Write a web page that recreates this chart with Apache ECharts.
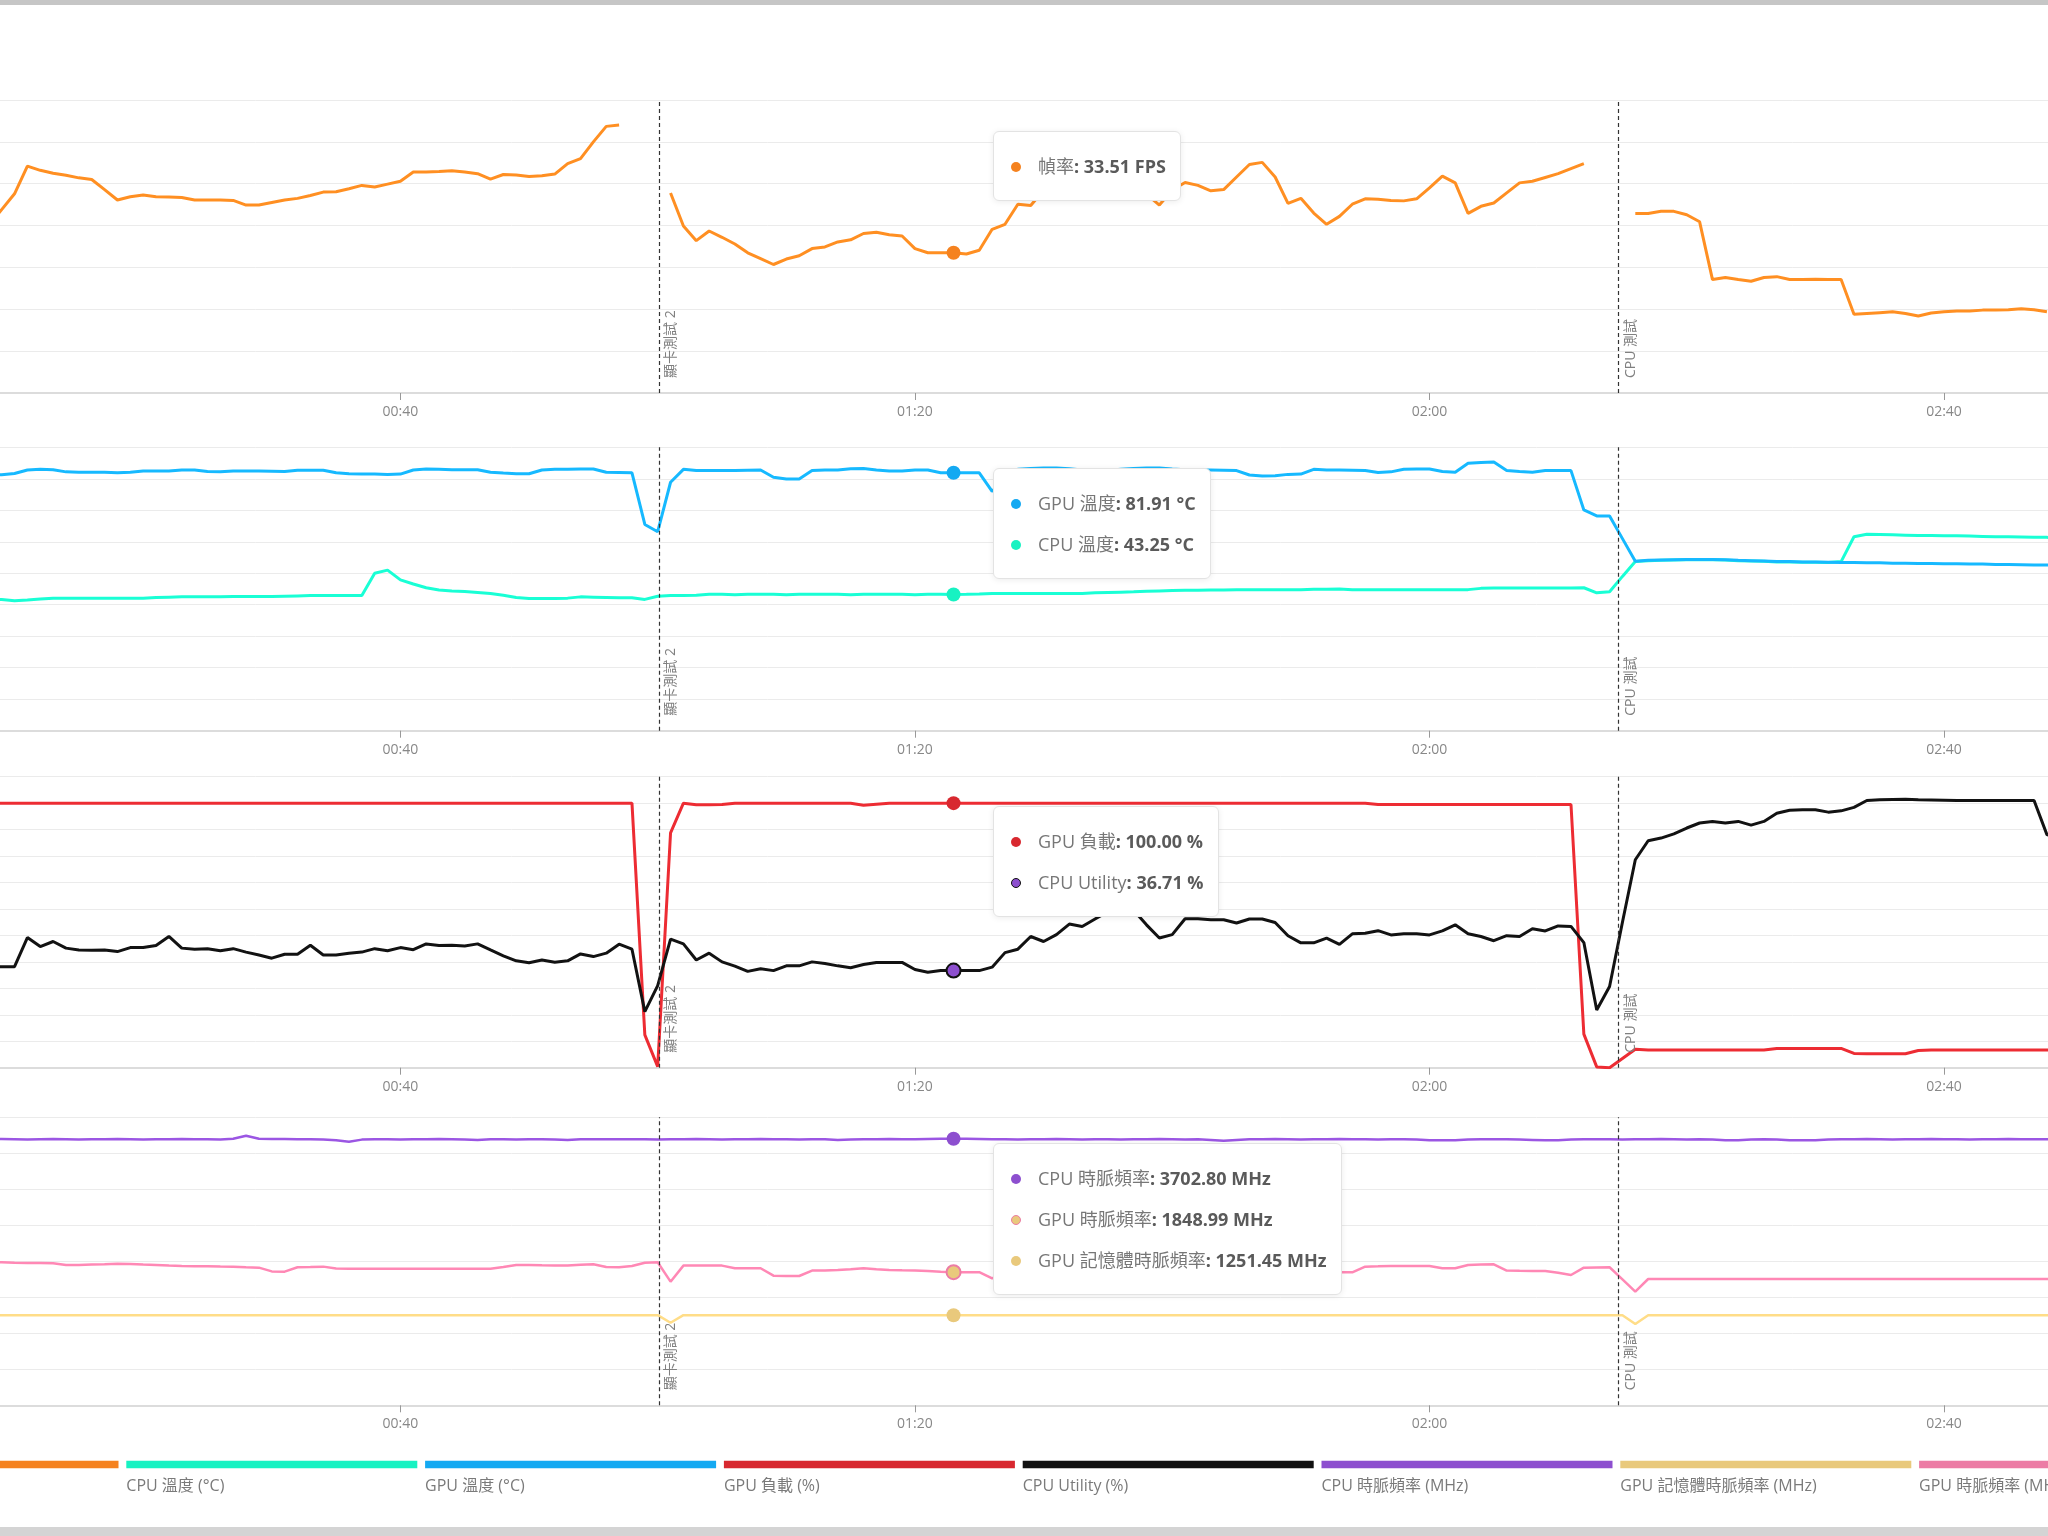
<!DOCTYPE html>
<html>
<head>
<meta charset="utf-8">
<script src="https://cdn.jsdelivr.net/npm/echarts@6/dist/echarts.min.js"></script>
<style>
  html, body { margin: 0; padding: 0; background: #fff; width: 2048px; height: 1536px; overflow: hidden; }
  .c { position: absolute; left: 0; width: 2048px; }
  #topbar { position: absolute; left: 0; top: 0; width: 2048px; height: 5px; background: #c6c6c6; z-index: 5; }
  #botbar { position: absolute; left: 0; top: 1527px; width: 2048px; height: 9px; background: #d4d4d4; z-index: 5; }
</style>
</head>
<body>
<div id="topbar"></div>
<div id="u1" class="c" style="top:0;height:430px"></div>
<div id="u2" class="c" style="top:430px;height:335px"></div>
<div id="u3" class="c" style="top:765px;height:335px"></div>
<div id="u4" class="c" style="top:1100px;height:436px"></div>
<div id="botbar"></div>
<script>
// 時間 (秒)
const seconds = [
  8, 9, 10, 11, 12, 13, 14, 15, 16, 17,
  18, 19, 20, 21, 22, 23, 24, 25, 26, 27,
  28, 29, 30, 31, 32, 33, 34, 35, 36, 37,
  38, 39, 40, 41, 42, 43, 44, 45, 46, 47,
  48, 49, 50, 51, 52, 53, 54, 55, 56, 57,
  58, 59, 60, 61, 62, 63, 64, 65, 66, 67,
  68, 69, 70, 71, 72, 73, 74, 75, 76, 77,
  78, 79, 80, 81, 82, 83, 84, 85, 86, 87,
  88, 89, 90, 91, 92, 93, 94, 95, 96, 97,
  98, 99, 100, 101, 102, 103, 104, 105, 106, 107,
  108, 109, 110, 111, 112, 113, 114, 115, 116, 117,
  118, 119, 120, 121, 122, 123, 124, 125, 126, 127,
  128, 129, 130, 131, 132, 133, 134, 135, 136, 137,
  138, 139, 140, 141, 142, 143, 144, 145, 146, 147,
  148, 149, 150, 151, 152, 153, 154, 155, 156, 157,
  158, 159, 160, 161, 162, 163, 164, 165, 166, 167,
  168, 169
];

// 幀率 (FPS)
const fps = [
  40.0, 43.8, 47.6, 54.2, 53.2, 52.5, 52.0, 51.4, 51.0, 48.6,
  46.1, 46.9, 47.3, 46.9, 46.8, 46.7, 46.1, 46.1, 46.1, 46.0,
  44.9, 44.9, 45.5, 46.1, 46.5, 47.2, 48.0, 48.1, 48.8, 49.6,
  49.2, 49.9, 50.6, 52.8, 52.8, 52.9, 53.1, 52.8, 52.4, 51.1,
  52.2, 52.1, 51.7, 51.9, 52.3, 54.8, 56.0, 60.0, 63.7, 64.0,
  null, null, null, 47.8, 39.9, 36.4, 38.7, 37.2, 35.6, 33.5,
  32.1, 30.7, 32.0, 32.8, 34.5, 34.9, 36.1, 36.6, 38.1, 38.4,
  37.8, 37.5, 34.5, 33.5, 33.5, 33.51, 33.2, 34.1, 39.1, 40.3,
  45.1, 44.8, 48.5, 49.5, 50.2, 49.6, 50.4, 51.0, 50.1, 49.2,
  47.5, 44.9, 48.5, 50.3, 49.6, 48.3, 48.6, 51.6, 54.6, 55.1,
  51.6, 45.3, 46.5, 43.0, 40.3, 42.2, 45.1, 46.4, 46.3, 46.0,
  45.9, 46.4, 49.0, 51.8, 50.2, 42.9, 44.6, 45.4, 47.8, 50.2,
  50.6, 51.5, 52.4, 53.6, 54.8, null, null, null, 42.9, 42.9,
  43.4, 43.4, 42.6, 40.9, 27.1, 27.6, 27.1, 26.7, 27.6, 27.8,
  27.1, 27.1, 27.2, 27.1, 27.1, 18.8, 19.0, 19.2, 19.4, 19.0,
  18.4, 19.1, 19.4, 19.6, 19.6, 19.8, 19.8, 19.9, 20.1, 19.9,
  19.4, null
];

// CPU 溫度 (°C)
const cpuTemp = [
  41.7, 41.7, 41.3, 41.5, 41.8, 42.1, 42.1, 42.1, 42.1, 42.1,
  42.1, 42.1, 42.1, 42.3, 42.4, 42.5, 42.5, 42.5, 42.5, 42.6,
  42.6, 42.6, 42.6, 42.7, 42.8, 42.9, 42.9, 42.9, 42.9, 42.9,
  50.0, 51.0, 47.9, 46.6, 45.4, 44.7, 44.4, 44.2, 43.9, 43.6,
  43.0, 42.3, 42.0, 42.0, 42.0, 42.1, 42.5, 42.4, 42.3, 42.2,
  42.2, 41.7, 42.7, 42.9, 42.9, 43.0, 43.3, 43.3, 43.2, 43.3,
  43.3, 43.3, 43.2, 43.3, 43.3, 43.3, 43.3, 43.2, 43.3, 43.3,
  43.3, 43.3, 43.2, 43.3, 43.3, 43.25, 43.3, 43.4, 43.6, 43.6,
  43.6, 43.6, 43.6, 43.6, 43.6, 43.6, 43.8, 43.9, 44.0, 44.1,
  44.3, 44.4, 44.5, 44.6, 44.6, 44.7, 44.7, 44.8, 44.8, 44.8,
  44.8, 44.8, 44.8, 44.9, 44.9, 45.0, 44.8, 44.8, 44.8, 44.8,
  44.8, 44.8, 44.8, 44.8, 44.8, 44.8, 45.2, 45.3, 45.3, 45.3,
  45.3, 45.3, 45.3, 45.3, 45.4, 43.8, 44.1, 49.0, 53.7, 54.0,
  54.1, 54.2, 54.3, 54.3, 54.3, 54.2, 54.0, 53.9, 53.8, 53.6,
  53.6, 53.5, 53.5, 53.4, 53.7, 61.6, 62.4, 62.3, 62.2, 62.1,
  62.0, 62.0, 61.9, 61.9, 61.8, 61.7, 61.6, 61.6, 61.5, 61.4,
  61.4, 61.3
];

// GPU 溫度 (°C)
const gpuTemp = [
  81.2, 81.3, 81.7, 82.8, 83.0, 82.9, 82.2, 82.1, 82.1, 82.1,
  81.9, 82.1, 82.5, 82.5, 82.5, 82.8, 82.8, 82.3, 82.2, 82.5,
  82.5, 82.5, 82.4, 82.3, 82.7, 82.7, 82.7, 81.9, 81.6, 81.5,
  81.5, 81.4, 81.5, 82.8, 83.1, 83.0, 82.9, 82.9, 82.9, 82.1,
  81.8, 81.6, 81.6, 82.8, 83.0, 83.0, 83.1, 83.1, 82.1, 82.0,
  81.9, 65.5, 63.2, 78.9, 83.0, 82.6, 82.6, 82.6, 82.6, 82.7,
  82.8, 80.5, 79.9, 79.9, 82.6, 82.8, 82.8, 83.2, 83.3, 82.8,
  82.5, 82.5, 82.8, 82.8, 81.9, 81.91, 81.9, 81.9, 76.0, 80.5,
  83.0, 83.3, 83.4, 83.4, 83.2, 82.8, 82.5, 82.6, 83.0, 83.3,
  83.4, 83.4, 83.1, 82.9, 82.8, 82.8, 82.7, 82.6, 81.2, 80.9,
  81.0, 81.4, 81.5, 83.0, 82.8, 82.8, 82.7, 82.6, 82.0, 82.2,
  83.0, 83.1, 83.1, 82.3, 82.1, 84.9, 85.2, 85.3, 82.6, 82.3,
  82.1, 82.6, 82.6, 82.6, 70.1, 68.2, 68.2, 61.0, 53.8, 54.1,
  54.2, 54.3, 54.4, 54.4, 54.4, 54.3, 54.1, 54.0, 53.9, 53.7,
  53.7, 53.6, 53.6, 53.5, 53.4, 53.4, 53.3, 53.3, 53.2, 53.2,
  53.1, 53.1, 53.0, 53.0, 52.9, 52.9, 52.8, 52.8, 52.7, 52.6,
  52.6, 52.5
];

// GPU 負載 (%)
const gpuLoad = [
  100, 100, 100, 100, 100, 100, 100, 100, 100, 100,
  100, 100, 100, 100, 100, 100, 100, 100, 100, 100,
  100, 100, 100, 100, 100, 100, 100, 100, 100, 100,
  100, 100, 100, 100, 100, 100, 100, 100, 100, 100,
  100, 100, 100, 100, 100, 100, 100, 100, 100, 100,
  100, 12.4, 0.4, 88.8, 100, 99.4, 99.4, 99.5, 100, 100,
  100, 100, 100, 100, 100, 100, 100, 100, 99.2, 99.6,
  100, 100, 100, 100, 100, 100.00, 100, 100, 100, 100,
  100, 100, 100, 100, 100, 100, 100, 100, 100, 100,
  100, 100, 100, 100, 100, 100, 100, 100, 100, 100,
  100, 100, 100, 100, 100, 100, 100, 100, 99.5, 99.5,
  99.5, 99.5, 99.5, 99.5, 99.5, 99.5, 99.5, 99.5, 99.5, 99.5,
  99.5, 99.5, 99.5, 99.5, 12.7, 0.3, 0, 3.5, 7.0, 6.7,
  6.7, 6.7, 6.7, 6.7, 6.7, 6.7, 6.7, 6.7, 6.7, 7.3,
  7.3, 7.3, 7.3, 7.3, 7.3, 5.4, 5.3, 5.3, 5.3, 5.3,
  6.5, 6.7, 6.7, 6.7, 6.7, 6.7, 6.7, 6.7, 6.7, 6.7,
  6.7, 6.7
];

// CPU Utility (%)
const cpuUtil = [
  38.0, 38.2, 38.2, 49.2, 45.8, 47.7, 45.2, 44.5, 44.4, 44.5,
  43.9, 45.4, 45.4, 46.2, 49.6, 45.2, 44.8, 45.0, 44.2, 45.0,
  43.7, 42.6, 41.4, 42.9, 42.9, 46.3, 42.6, 42.6, 43.3, 43.7,
  45.0, 44.2, 45.4, 44.6, 46.8, 46.2, 46.3, 46.0, 46.8, 44.5,
  42.3, 40.4, 39.7, 40.7, 39.9, 40.4, 43.0, 42.0, 43.3, 46.7,
  44.8, 21.2, 31.0, 48.6, 46.8, 40.7, 43.3, 40.0, 38.4, 36.4,
  37.4, 36.7, 38.5, 38.5, 40.0, 39.4, 38.5, 37.8, 39.0, 39.8,
  39.8, 39.8, 37.1, 36.1, 36.7, 36.71, 36.7, 36.7, 38.0, 43.5,
  44.8, 49.6, 47.7, 50.3, 54.3, 53.4, 56.2, 59.0, 61.0, 59.5,
  54.0, 49.0, 50.3, 56.3, 56.3, 55.9, 55.9, 54.7, 56.2, 56.2,
  54.9, 49.9, 47.2, 47.2, 49.0, 46.6, 50.6, 50.8, 51.8, 50.2,
  50.6, 50.6, 50.2, 51.7, 54.0, 50.6, 49.6, 48.0, 49.9, 49.6,
  52.5, 51.7, 53.6, 53.4, 47.3, 21.8, 30.7, 55.0, 78.6, 85.8,
  86.8, 88.4, 90.6, 92.5, 93.1, 92.5, 93.1, 91.7, 93.1, 96.2,
  97.3, 97.5, 97.5, 96.6, 97.1, 98.4, 101.0, 101.3, 101.4, 101.5,
  101.3, 101.2, 101.1, 101.0, 101.0, 101.0, 101.0, 101.0, 101.0, 101.0,
  88.1, 86.5
];

// CPU 時脈頻率 (MHz)
const cpuClock = [
  3694, 3698, 3694, 3690, 3694, 3698, 3694, 3690, 3694, 3694,
  3698, 3694, 3690, 3694, 3694, 3698, 3694, 3694, 3690, 3702,
  3745, 3702, 3698, 3698, 3694, 3694, 3690, 3680, 3661, 3690,
  3694, 3694, 3690, 3694, 3694, 3698, 3694, 3690, 3686, 3694,
  3694, 3690, 3694, 3694, 3690, 3686, 3694, 3694, 3694, 3694,
  3694, 3694, 3690, 3694, 3694, 3698, 3694, 3690, 3694, 3694,
  3698, 3694, 3694, 3690, 3694, 3694, 3686, 3690, 3694, 3694,
  3698, 3694, 3694, 3698, 3702, 3702.80, 3702, 3698, 3694, 3694,
  3690, 3694, 3694, 3698, 3694, 3690, 3694, 3694, 3690, 3694,
  3694, 3698, 3694, 3690, 3694, 3686, 3675, 3686, 3694, 3694,
  3698, 3694, 3690, 3694, 3694, 3698, 3694, 3694, 3690, 3694,
  3694, 3690, 3682, 3682, 3682, 3690, 3694, 3694, 3694, 3690,
  3686, 3682, 3682, 3690, 3694, 3694, 3694, 3690, 3694, 3694,
  3698, 3694, 3690, 3694, 3690, 3682, 3682, 3690, 3694, 3690,
  3682, 3682, 3682, 3690, 3694, 3694, 3698, 3694, 3690, 3694,
  3694, 3698, 3694, 3694, 3690, 3694, 3694, 3698, 3694, 3694,
  3694, 3694
];

// GPU 記憶體時脈頻率 (MHz)
const memClock = [
  1251.45, 1251.45, 1251.45, 1251.45, 1251.45, 1251.45, 1251.45, 1251.45, 1251.45, 1251.45,
  1251.45, 1251.45, 1251.45, 1251.45, 1251.45, 1251.45, 1251.45, 1251.45, 1251.45, 1251.45,
  1251.45, 1251.45, 1251.45, 1251.45, 1251.45, 1251.45, 1251.45, 1251.45, 1251.45, 1251.45,
  1251.45, 1251.45, 1251.45, 1251.45, 1251.45, 1251.45, 1251.45, 1251.45, 1251.45, 1251.45,
  1251.45, 1251.45, 1251.45, 1251.45, 1251.45, 1251.45, 1251.45, 1251.45, 1251.45, 1251.45,
  1251.45, 1251.45, 1251.45, 1147, 1251.45, 1251.45, 1251.45, 1251.45, 1251.45, 1251.45,
  1251.45, 1251.45, 1251.45, 1251.45, 1251.45, 1251.45, 1251.45, 1251.45, 1251.45, 1251.45,
  1251.45, 1251.45, 1251.45, 1251.45, 1251.45, 1251.45, 1251.45, 1251.45, 1251.45, 1251.45,
  1251.45, 1251.45, 1251.45, 1251.45, 1251.45, 1251.45, 1251.45, 1251.45, 1251.45, 1251.45,
  1251.45, 1251.45, 1251.45, 1251.45, 1251.45, 1251.45, 1251.45, 1251.45, 1251.45, 1251.45,
  1251.45, 1251.45, 1251.45, 1251.45, 1251.45, 1251.45, 1251.45, 1251.45, 1251.45, 1251.45,
  1251.45, 1251.45, 1251.45, 1251.45, 1251.45, 1251.45, 1251.45, 1251.45, 1251.45, 1251.45,
  1251.45, 1251.45, 1251.45, 1251.45, 1251.45, 1251.45, 1251.45, 1251.45, 1129, 1251.45,
  1251.45, 1251.45, 1251.45, 1251.45, 1251.45, 1251.45, 1251.45, 1251.45, 1251.45, 1251.45,
  1251.45, 1251.45, 1251.45, 1251.45, 1251.45, 1251.45, 1251.45, 1251.45, 1251.45, 1251.45,
  1251.45, 1251.45, 1251.45, 1251.45, 1251.45, 1251.45, 1251.45, 1251.45, 1251.45, 1251.45,
  1251.45, 1251.45
];

// GPU 時脈頻率 (MHz)
const gpuClock = [
  1986, 1986, 1981, 1978, 1975, 1972, 1950, 1950, 1955, 1958,
  1965, 1962, 1955, 1949, 1940, 1935, 1932, 1930, 1927, 1926,
  1918, 1912, 1860, 1856, 1917, 1920, 1926, 1900, 1898, 1898,
  1898, 1898, 1898, 1898, 1898, 1898, 1898, 1898, 1898, 1898,
  1920, 1949, 1949, 1945, 1942, 1940, 1952, 1958, 1920, 1917,
  1935, 1981, 1986, 1717, 1940, 1940, 1940, 1940, 1903, 1903,
  1903, 1800, 1796, 1796, 1871, 1871, 1880, 1890, 1903, 1890,
  1880, 1875, 1871, 1865, 1856, 1848.99, 1849, 1849, 1763, 1850,
  1900, 1905, 1905, 1910, 1905, 1900, 1895, 1900, 1910, 1915,
  1910, 1905, 1900, 1900, 1895, 1905, 1910, 1915, 1920, 1918,
  1910, 1905, 1900, 1880, 1860, 1847, 1847, 1926, 1930, 1935,
  1935, 1935, 1935, 1903, 1903, 1949, 1955, 1958, 1871, 1868,
  1866, 1866, 1840, 1810, 1912, 1915, 1917, 1750, 1578, 1754,
  1754, 1754, 1754, 1754, 1754, 1754, 1754, 1754, 1754, 1754,
  1754, 1754, 1754, 1754, 1754, 1754, 1754, 1754, 1754, 1754,
  1754, 1754, 1754, 1754, 1754, 1754, 1754, 1754, 1754, 1754,
  1754, 1754
];

// 測試分段標記
const markNames = ['顯卡測試 2', 'CPU 測試'];
const markTimes = [60.09, 134.71];

// 圖例
const legendLabels = ['幀率 (FPS)', 'CPU 溫度 (°C)', 'GPU 溫度 (°C)', 'GPU 負載 (%)', 'CPU Utility (%)',
  'CPU 時脈頻率 (MHz)', 'GPU 記憶體時脈頻率 (MHz)', 'GPU 時脈頻率 (MHz)'];

const FONT = '"Open Sans", "Noto Sans CJK TC", sans-serif';
const tipTime = 83;

// 線色 / 點色 / 單位
const styles = {
  '幀率': { line: '#f5821f', dot: '#f5821f', unit: 'FPS' },
  'CPU 溫度': { line: '#17f2c2', dot: '#17f2c2', unit: '°C' },
  'GPU 溫度': { line: '#14a9f2', dot: '#14a9f2', unit: '°C' },
  'GPU 負載': { line: '#d8282f', dot: '#d8282f', unit: '%' },
  'CPU Utility': { line: '#111111', dot: '#8d4fcf', unit: '%' },
  'CPU 時脈頻率': { line: '#8d4fcf', dot: '#8d4fcf', unit: 'MHz' },
  'GPU 記憶體時脈頻率': { line: '#e9c97c', dot: '#e9c97c', unit: 'MHz' },
  'GPU 時脈頻率': { line: '#ec7ca5', dot: '#e9c97c', unit: 'MHz' }
};
const legendColors = ['#f5821f', '#17f2c2', '#14a9f2', '#d8282f', '#111111', '#8d4fcf', '#e9c97c', '#ec7ca5'];

function fmtTime(v) {
  const m = Math.floor(v / 60), s = Math.round(v % 60);
  return (m < 10 ? '0' : '') + m + ':' + (s < 10 ? '0' : '') + s;
}

function pairs(arr) {
  return seconds.map((t, i) => [t, arr[i] == null ? '-' : arr[i]]);
}

// tooltip 內容, 依數值排序
function tipFormatter(params) {
  const rows = params.slice().sort((a, b) => b.value[1] - a.value[1]);
  return rows.map((p, i) => {
    const s = styles[p.seriesName];
    const border = s.dot !== s.line ? '1.5px solid ' + s.line : 'none';
    const dot = '<span style="display:inline-block;box-sizing:border-box;width:10px;height:10px;border-radius:50%;' +
      'vertical-align:middle;margin:-3px 17px 0 0;background:' + s.dot + ';border:' + border + '"></span>';
    return '<div style="line-height:24px;white-space:nowrap;' + (i ? 'margin-top:17px;' : '') + '">' + dot +
      '<span style="color:#777">' + p.seriesName + '</span>' +
      '<b style="color:#5a5a5a;font-weight:700">: ' + Number(p.value[1]).toFixed(2) + ' ' + s.unit + '</b></div>';
  }).join('');
}

const markLine = {
  silent: true,
  symbol: ['none', 'none'],
  animation: false,
  lineStyle: { color: '#333', type: [4, 3], width: 1.2 },
  label: {
    show: true, position: 'insideStartBottom', formatter: '{b}',
    distance: [15, 5], color: '#808080', fontSize: 14, fontFamily: FONT
  },
  emphasis: { disabled: true },
  data: markNames.map((n, i) => ({ name: n, xAxis: markTimes[i] }))
};

function makeChart(domId, cfg) {
  let chart = echarts.init(document.getElementById(domId));
  const option = {
    animation: false,
    textStyle: { fontFamily: FONT },
    // 圖表比畫面寬, 左右超出
    grid: { left: -114.1, width: 2276.8, top: cfg.top, height: cfg.height, containLabel: false, outerBoundsMode: 'none' },
    xAxis: {
      type: 'value', min: 0, max: 177, interval: 40,
      axisLine: { lineStyle: { color: '#dcdcdc', width: 2 } },
      axisTick: { length: 7, lineStyle: { color: '#999' } },
      axisLabel: { formatter: fmtTime, color: '#888', fontSize: 14, margin: 12 },
      splitLine: { show: false }
    },
    yAxis: {
      type: 'value', min: 0, max: cfg.yMax, interval: cfg.yStep,
      axisLine: { show: false }, axisTick: { show: false }, axisLabel: { show: false },
      splitLine: { lineStyle: { color: '#ebebeb', width: 1 } }
    },
    tooltip: {
      trigger: 'axis',
      triggerOn: 'none',
      alwaysShowContent: true,
      transitionDuration: 0,
      position: [993, cfg.tipTop],
      backgroundColor: '#fff',
      borderColor: '#e3e3e3',
      borderWidth: 1,
      padding: [22, 14, 22, 17],
      textStyle: { fontSize: 18, fontFamily: FONT, color: '#666' },
      extraCssText: 'border-radius:6px;box-shadow:0 1px 6px rgba(0,0,0,0.08);',
      axisPointer: { type: 'line', lineStyle: { opacity: 0 } },
      formatter: tipFormatter
    },
    series: cfg.series.map((s, k) => ({
      name: s.name,
      type: 'line',
      data: pairs(s.data),
      showSymbol: false,
      symbol: 'circle',
      symbolSize: 10,
      lineStyle: { color: styles[s.name].line, width: cfg.lineWidth },
      itemStyle: {
        color: styles[s.name].dot,
        borderColor: styles[s.name].line,
        borderWidth: styles[s.name].dot === styles[s.name].line ? 0 : 2
      },
      emphasis: { scale: 1.4, lineStyle: { width: cfg.lineWidth } },
      markLine: k === 0 ? markLine : undefined
    })),
    graphic: cfg.graphic || []
  };
  chart.setOption(option);
  chart.dispatchAction({ type: 'showTip', seriesIndex: 0, dataIndex: seconds.indexOf(tipTime) });
  return chart;
}

// 底部圖例 (色條 + 文字)
const legendGraphic = [];
legendLabels.forEach((label, i) => {
  const x = -172.5 + i * 298.8;
  legendGraphic.push({ type: 'rect', silent: true, shape: { x: x, y: 360.7, width: 291, height: 7.6 }, style: { fill: legendColors[i] } });
  legendGraphic.push({ type: 'text', silent: true, x: x, y: 386.7,
    style: { text: label, fill: '#7a7a7a', fontSize: 16, fontFamily: FONT, verticalAlign: 'middle' } });
});

let myChart1 = makeChart('u1', {
  top: 100, height: 293, yMax: 70, yStep: 10, tipTop: 131, lineWidth: 3,
  series: [{ name: '幀率', data: fps }]
});
let myChart2 = makeChart('u2', {
  top: 17.3, height: 283.4, yMax: 90, yStep: 10, tipTop: 38, lineWidth: 3,
  series: [{ name: 'CPU 溫度', data: cpuTemp }, { name: 'GPU 溫度', data: gpuTemp }]
});
let myChart3 = makeChart('u3', {
  top: 11.7, height: 291, yMax: 110, yStep: 10, tipTop: 41, lineWidth: 3,
  series: [{ name: 'GPU 負載', data: gpuLoad }, { name: 'CPU Utility', data: cpuUtil }]
});
let myChart4 = makeChart('u4', {
  top: 17.3, height: 288, yMax: 4000, yStep: 500, tipTop: 43, lineWidth: 2.5,
  series: [{ name: 'CPU 時脈頻率', data: cpuClock }, { name: 'GPU 記憶體時脈頻率', data: memClock }, { name: 'GPU 時脈頻率', data: gpuClock }],
  graphic: legendGraphic
});
</script>
</body>
</html>
